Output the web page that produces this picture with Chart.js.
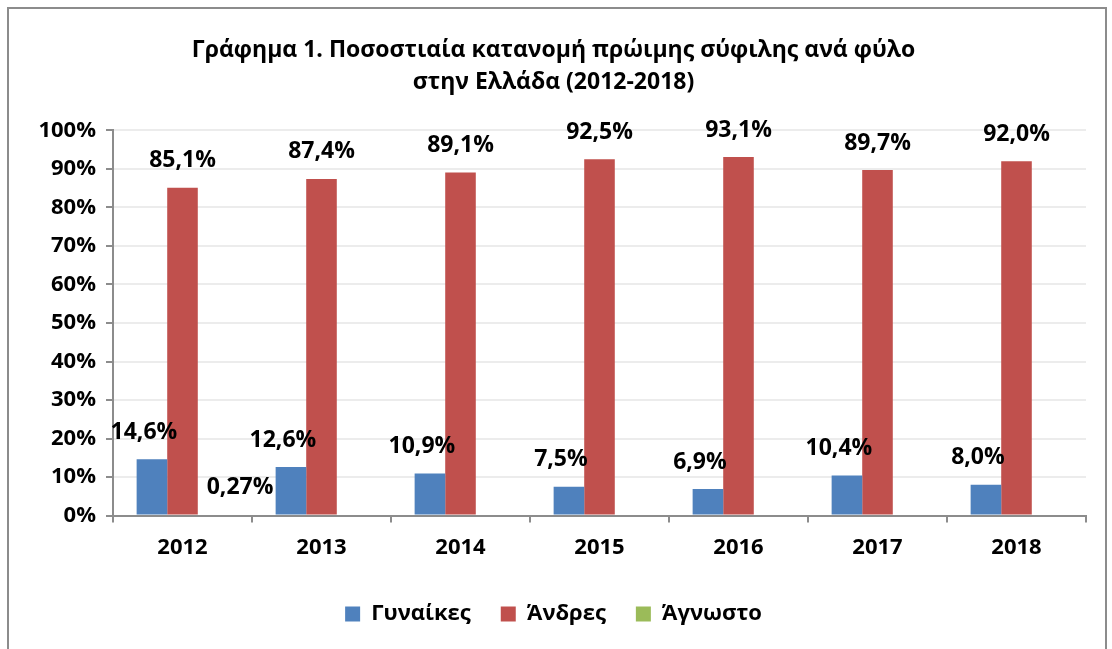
<!DOCTYPE html>
<html lang="el">
<head>
    <meta charset="UTF-8">
    <title>Γράφημα 1</title>
    <script src="https://cdn.jsdelivr.net/npm/chart.js"></script>
    <style>
        html, body { margin: 0; padding: 0; background: #fff; }
        .frame {
            position: absolute; left: 7px; top: 7px; width: 1100px; height: 660px;
            border: 2px solid #8c8c8c; box-sizing: border-box;
        }
        .wrap { position: absolute; left: 0; top: 0; width: 1112px; height: 649px; }
    </style>
</head>
<body>
    <div class="frame"></div>
    <div class="wrap"><canvas id="grafima"></canvas></div>
    <script>
        const etos = ['2012', '2013', '2014', '2015', '2016', '2017', '2018'];
        const gynaikes = [14.6, 12.6, 10.9, 7.5, 6.9, 10.4, 8.0];
        const andres = [85.1, 87.4, 89.1, 92.5, 93.1, 89.7, 92.0];
        const agnosto = [0.27, null, null, null, null, null, null];
        const seires = ['Γυναίκες', 'Άνδρες', 'Άγνωστο'];
        const dekadika = [1, 1, 2];

        const grammatoseira = "'Open Sans', 'Noto Sans', sans-serif";

        // ετικέτες τιμών πάνω από τις μπάρες
        const etiketes = {
            id: 'etiketes',
            afterDatasetsDraw(chart) {
                const ctx = chart.ctx;
                const metatopisi = [-8, 0, 27];
                ctx.save();
                ctx.font = 'bold 23px ' + grammatoseira;
                ctx.fillStyle = '#000';
                ctx.textAlign = 'center';
                ctx.textBaseline = 'middle';
                chart.data.datasets.forEach((ds, i) => {
                    chart.getDatasetMeta(i).data.forEach((bar, j) => {
                        const v = ds.data[j];
                        if (v === null) return;
                        const txt = v.toFixed(dekadika[i]).replace('.', ',') + '%';
                        ctx.fillText(txt, bar.x + metatopisi[i], bar.y - 27);
                    });
                });
                ctx.restore();
            }
        };

        new Chart(document.getElementById('grafima'), {
            type: 'bar',
            data: {
                labels: etos,
                datasets: [
                    { label: seires[0], data: gynaikes, backgroundColor: '#4F81BD' },
                    { label: seires[1], data: andres, backgroundColor: '#C0504D' },
                    { label: seires[2], data: agnosto, backgroundColor: '#9BBB59' }
                ]
            },
            options: {
                responsive: true,
                maintainAspectRatio: false,
                animation: false,
                layout: { padding: { left: 21, right: 26, top: 22, bottom: 14 } },
                datasets: { bar: { categoryPercentage: 0.66, barPercentage: 1 } },
                scales: {
                    x: {
                        grid: { display: true, drawOnChartArea: false, drawTicks: true, tickLength: 7, color: '#8c8c8c', lineWidth: 2 },
                        border: { color: '#8c8c8c', width: 2 },
                        ticks: { color: '#000', font: { family: grammatoseira, size: 22, weight: 'bold' }, padding: 12 }
                    },
                    y: {
                        min: 0, max: 100,
                        afterFit(scale) { scale.width = 92; },
                        grid: { color: '#ececec', lineWidth: 2, tickColor: '#8c8c8c', tickLength: 7 },
                        border: { color: '#8c8c8c', width: 2 },
                        ticks: {
                            stepSize: 10,
                            color: '#000',
                            padding: 10,
                            font: { family: grammatoseira, size: 22, weight: 'bold' },
                            callback: v => v + '%'
                        }
                    }
                },
                plugins: {
                    title: {
                        display: true,
                        text: ['Γράφημα 1. Ποσοστιαία κατανομή πρώιμης σύφιλης ανά φύλο', 'στην Ελλάδα (2012-2018)'],
                        color: '#000',
                        font: { family: grammatoseira, size: 23, weight: 'bold', lineHeight: 1.4 },
                        padding: { top: 12, bottom: 32 }
                    },
                    legend: {
                        position: 'bottom',
                        labels: {
                            color: '#000',
                            font: { family: grammatoseira, size: 22, weight: 'bold' },
                            boxWidth: 15, boxHeight: 15, padding: 30
                        }
                    },
                    tooltip: { enabled: false }
                }
            },
            plugins: [etiketes]
        });
    </script>
</body>
</html>
